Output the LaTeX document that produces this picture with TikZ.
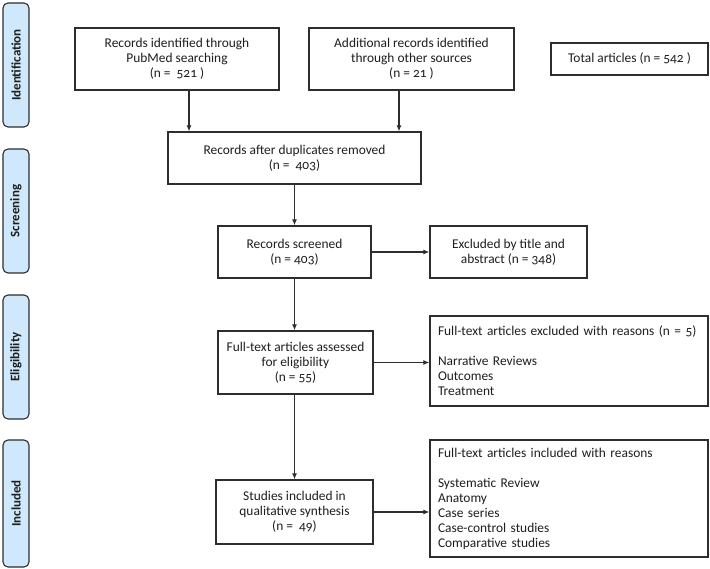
\documentclass[tikz,border=0pt]{standalone}
\usepackage{fontspec}
\setmainfont{Carlito}[Numbers=OldStyle]
\usetikzlibrary{arrows.meta}
\definecolor{barfill}{RGB}{207,232,252}
\definecolor{edge}{RGB}{45,45,45}
\definecolor{txt}{RGB}{30,30,30}
\begin{document}
\begin{tikzpicture}[x=1pt,y=-1pt,
  every node/.style={font=\fontsize{13.4}{15}\selectfont, text=txt},
  box/.style={draw=edge, line width=1.3pt, fill=white, align=center, inner sep=0pt},
  lbox/.style={draw=edge, line width=1.3pt, fill=white, align=left, inner sep=0pt, text width=#1},
  bar/.style={draw=edge, line width=1.1pt, fill=barfill, rounded corners=5pt},
  barlabel/.style={rotate=90, font=\fontsize{13}{15}\selectfont\bfseries},
  arr/.style={draw=edge, line width=1.1pt, -{Latex[length=6pt,width=5pt]}}]
\useasboundingbox (0,0) rectangle (710,569);
% side bars
\draw[bar] (3,3) rectangle (29,127);
\node[barlabel] (lid) at (16,65) {Identification};
\draw[bar] (3,149) rectangle (29,273);
\node[barlabel] (lsc) at (16,211) {Screening};
\draw[bar] (3,295) rectangle (29,419);
\node[barlabel] (lel) at (16,357) {Eligibility};
\draw[bar] (3,440) rectangle (29,567);
\node[barlabel] (lin) at (16,503.5) {Included};
% boxes
\node[box, minimum width=204pt, minimum height=62pt] (pub) at (177,59)
  {Records identified through\\PubMed searching\\(n = \ 521 )};
\node[box, minimum width=205pt, minimum height=62pt] (add) at (411.5,59)
  {Additional records identified\\through other sources\\(n = 21 )};
\node[box, minimum width=157pt, minimum height=32pt] (tot) at (629.5,59)
  {Total articles (n = 542 )};
\node[box, minimum width=253pt, minimum height=52pt] (dup) at (294.5,158)
  {Records after duplicates removed\\(n = \ 403)};
\node[box, minimum width=153pt, minimum height=52pt] (scr) at (294.5,252)
  {Records screened\\(n = 403)};
\node[box, minimum width=157pt, minimum height=52pt] (ex1) at (508.5,252)
  {Excluded by title and\\abstract (n = 348)};
\node[box, minimum width=155pt, minimum height=63pt] (eli) at (295.5,362.5)
  {Full-text articles assessed\\for eligibility\\(n = 55)};
\node[lbox=262pt, minimum width=278pt, minimum height=90pt] (ex2) at (569,361)
  {Full-text articles excluded with reasons (n = 5)\\[15pt]Narrative Reviews\\Outcomes\\Treatment};
\node[box, minimum width=157pt, minimum height=64pt] (stu) at (294.5,512)
  {Studies included in\\qualitative synthesis\\(n = \ 49)};
\node[lbox=262pt, minimum width=278pt, minimum height=117pt] (inc) at (569,498.5)
  {Full-text articles included with reasons\\[15pt]Systematic Review\\Anatomy\\Case series\\Case-control studies\\Comparative studies};
% connectors
\draw[arr] ([xshift=12pt]pub.south) -- ([xshift=12pt]pub.south |- dup.north);
\draw[arr] ([xshift=-12.5pt]add.south) -- ([xshift=-12.5pt]add.south |- dup.north);
\draw[arr] (dup.south) -- (scr.north);
\draw[arr] (scr.east) -- (ex1.west);
\draw[arr] (scr.south) -- (scr.south |- eli.north);
\draw[arr] (eli.east) -- (ex2.west |- eli.east);
\draw[arr] (eli.south -| scr.south) -- (scr.south |- stu.north);
\draw[arr] (stu.east) -- (inc.west |- stu.east);
\end{tikzpicture}
\end{document}
